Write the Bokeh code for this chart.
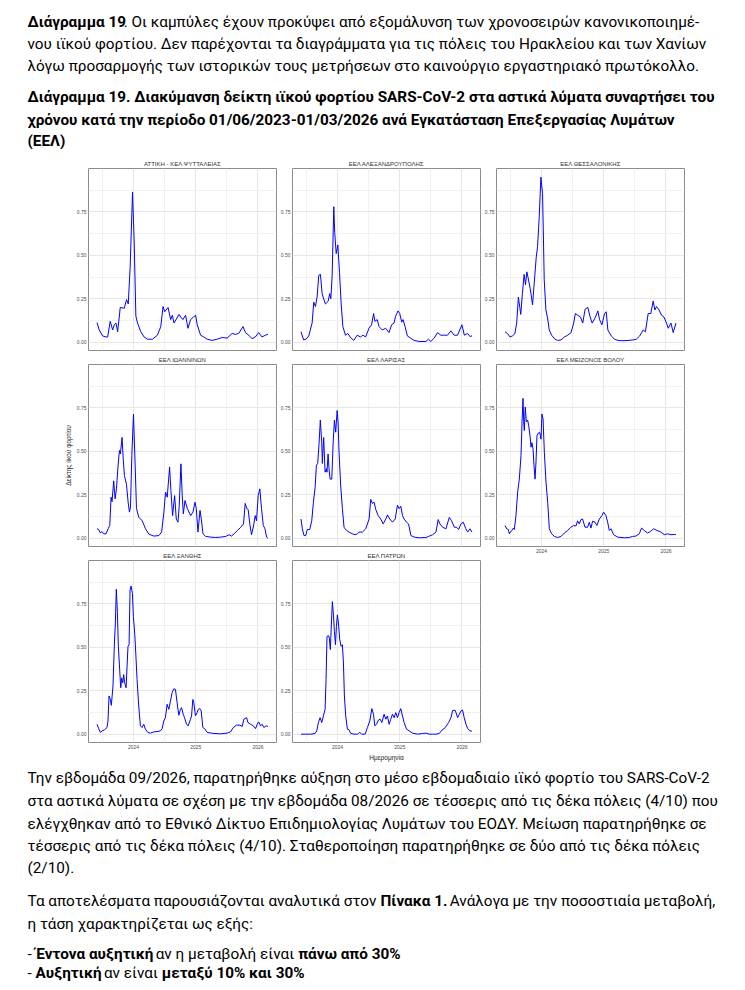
import subprocess
import numpy as np
import pandas as pd
from bokeh.plotting import figure
from bokeh.layouts import column, row
from bokeh.models import (Range1d, FixedTicker, NumeralTickFormatter,
                          DatetimeTickFormatter, Label, ColumnDataSource, Spacer)
from bokeh.embed import file_html
from bokeh.resources import INLINE

# ---------------- data (weeks since 2023-06-01, normalised viral-load index) ----------------
START = "2023-06-01"

ATT_WEEKS = [0, 1.9, 4.7, 7.5, 8.9, 11.1, 13.1, 14.5, 15.9, 17.3, 19.5, 22.8, 24.8, 26.2, 27.8,
             29.8, 31.2, 32.6, 34, 36.7, 39.5, 42.3, 46.5, 50.7, 53.5, 55.4, 56.8, 59.6, 61.8, 63.2,
             64.6, 68.8, 70.2, 72.1, 74.3, 76.3, 78.5, 82.7, 84.1, 86.9, 89.6, 92.4, 96.6, 100.8, 105,
             109.1, 113.3, 116.1, 118.9, 122.5, 124.5, 127.3, 130, 132.8, 135.6, 138.4, 141.2, 143.4]
ATT_VALS = [0.113, 0.07, 0.036, 0.03, 0.03, 0.12, 0.07, 0.10, 0.11, 0.06, 0.20, 0.195, 0.245, 0.22, 0.43,
            0.865, 0.57, 0.15, 0.11, 0.06, 0.03, 0.017, 0.017, 0.04, 0.09, 0.205, 0.175, 0.2, 0.13, 0.155,
            0.11, 0.16, 0.145, 0.13, 0.155, 0.08, 0.13, 0.155, 0.1, 0.04, 0.03, 0.017, 0.01, 0.017, 0.027,
            0.023, 0.05, 0.045, 0.05, 0.09, 0.055, 0.04, 0.02, 0.03, 0.055, 0.03, 0.04, 0.045]

ALE_WEEKS = [0, 2.2, 4.2, 6.5, 9.3, 10.7, 12.1, 13.5, 14.9, 16.3, 17.7, 18.5, 20.5, 22.7, 24.1,
             25, 26.1, 27.5, 28.3, 29.5, 30.9, 32.3, 33.7, 35.1, 37.3, 39.3, 41.5, 44.3, 47.1, 49.9,
             51.9, 54.2, 57, 59.2, 60.9, 62, 64, 65.4, 68.2, 71, 73.8, 76, 78, 79.4, 81.4,
             82.8, 84.5, 85.6, 87.3, 89.2, 92, 94.8, 99.1, 104.7, 106.9, 108.9, 111.7, 114.5, 117.3, 120.1,
             122.9, 125.7, 128.5, 131.3, 135, 137, 139.7, 141.7, 143.4]
ALE_VALS = [0.06, 0.013, 0.017, 0.036, 0.11, 0.23, 0.205, 0.26, 0.385, 0.39, 0.28, 0.26, 0.22, 0.235, 0.28,
            0.25, 0.38, 0.78, 0.63, 0.51, 0.56, 0.40, 0.22, 0.09, 0.04, 0.05, 0.027, 0.01, 0.04, 0.03,
            0.04, 0.03, 0.08, 0.10, 0.165, 0.12, 0.13, 0.09, 0.07, 0.08, 0.055, 0.10, 0.11, 0.15, 0.18,
            0.165, 0.115, 0.13, 0.09, 0.036, 0.023, 0.01, 0.004, 0.004, 0.017, 0.004, 0.023, 0.055, 0.04, 0.04,
            0.04, 0.065, 0.04, 0.04, 0.10, 0.04, 0.05, 0.033, 0.036]

THE_WEEKS = [0, 2, 4.2, 6.2, 8.2, 9.8, 11.2, 12.4, 13.2, 14.6, 16, 17.2, 18.3, 19.4, 21.1,
             23.1, 24.5, 26.2, 27.3, 28.7, 30.1, 31.5, 32.9, 34.3, 35.7, 37.1, 39.1, 41.9, 44.1, 47,
             49.8, 52.6, 55.4, 57.6, 59, 61, 63.3, 65.2, 67.2, 69.5, 71.4, 73.1, 75.6, 77.9, 79.3,
             81.3, 83.5, 84.9, 86.3, 89.1, 91.9, 94.8, 99, 103.2, 107.4, 110.2, 113, 115.9, 117.8, 120.1,
             122.3, 124.3, 125.7, 127.1, 129.3, 131.3, 133.3, 135.5, 136.9, 139.2, 141.1, 143.4]
THE_VALS = [0.06, 0.05, 0.03, 0.036, 0.048, 0.11, 0.26, 0.2, 0.16, 0.28, 0.39, 0.33, 0.405, 0.37, 0.31,
            0.215, 0.34, 0.49, 0.55, 0.72, 0.95, 0.855, 0.36, 0.185, 0.14, 0.07, 0.04, 0.017, 0.01, 0.013,
            0.03, 0.04, 0.055, 0.11, 0.165, 0.155, 0.145, 0.11, 0.19, 0.2, 0.145, 0.11, 0.14, 0.18, 0.13,
            0.10, 0.165, 0.175, 0.07, 0.036, 0.017, 0.01, 0.008, 0.01, 0.013, 0.017, 0.036, 0.07, 0.06, 0.165,
            0.165, 0.237, 0.185, 0.205, 0.185, 0.155, 0.145, 0.11, 0.08, 0.11, 0.055, 0.11]

IOA_WEEKS = [0, 1.4, 2.8, 4.2, 5.6, 7.6, 9.3, 10.7, 11.8, 12.6, 14, 15.2, 16.3, 17.7, 18.8,
             19.6, 21, 21.9, 23, 24.7, 26.1, 27.2, 28.1, 29.2, 30.6, 32, 33.1, 35.1, 37.9, 40.7,
             43.5, 47.7, 51.9, 54.2, 56.1, 57.5, 58.9, 60.9, 62, 63.4, 65.1, 66.5, 67.9, 69, 70.4,
             71.5, 72.4, 73.8, 75.8, 78.6, 80.5, 82.2, 83.3, 84.7, 86.4, 87.5, 88.9, 91.2, 95.4, 99.6,
             103.8, 108, 110.8, 112.8, 115, 117.8, 120.6, 122.9, 124.3, 125.7, 126.8, 128.2, 129.6, 131.3, 132.7,
             133.8, 135.2, 136.6, 138, 139.5, 140.9, 142.3, 143.4]
IOA_VALS = [0.054, 0.05, 0.03, 0.038, 0.025, 0.025, 0.054, 0.073, 0.236, 0.21, 0.33, 0.226, 0.284, 0.42, 0.505,
            0.485, 0.58, 0.466, 0.36, 0.31, 0.207, 0.15, 0.18, 0.476, 0.715, 0.42, 0.17, 0.12, 0.10, 0.054,
            0.023, 0.012, 0.015, 0.035, 0.15, 0.265, 0.236, 0.41, 0.275, 0.13, 0.245, 0.11, 0.092, 0.188, 0.428,
            0.245, 0.14, 0.217, 0.17, 0.13, 0.15, 0.207, 0.17, 0.035, 0.16, 0.11, 0.025, 0.01, 0.006, 0.004,
            0.006, 0.01, 0.02, 0.012, 0.025, 0.044, 0.063, 0.082, 0.2, 0.17, 0.165, 0.08, 0.02, 0.07, 0.13,
            0.10, 0.245, 0.284, 0.17, 0.073, 0.054, 0.006, 0.0]

LAR_WEEKS = [0, 1.1, 2.5, 3.9, 5.3, 7.3, 9, 10.4, 11.8, 12.9, 14, 15.1, 16.2, 17.4, 17.9,
             19, 20.2, 21.3, 21.8, 22.7, 23.5, 24.4, 25.8, 26.9, 28, 29.1, 30.3, 31.1, 31.9, 33.3,
             34.7, 36.1, 38.1, 40.3, 43.1, 45.4, 47.3, 48.7, 51.5, 54.3, 57.1, 58.5, 59.9, 61.3, 62.7,
             64.7, 66.9, 68.9, 71.1, 72.5, 74.5, 76.7, 79, 80.9, 82.3, 83.7, 85.1, 86.5, 88.5, 90.2,
             92.2, 95, 99.2, 104.8, 107, 110.4, 113.2, 115.1, 116.5, 118.8, 121.6, 124.4, 126.3, 128.6, 130.5,
             132.2, 134.1, 136.1, 138.3, 139.8, 141.7, 143.4]
LAR_VALS = [0.11, 0.054, 0.015, 0.015, 0.05, 0.05, 0.10, 0.207, 0.29, 0.42, 0.43, 0.54, 0.68, 0.55, 0.43,
            0.58, 0.38, 0.40, 0.38, 0.485, 0.40, 0.34, 0.34, 0.54, 0.68, 0.61, 0.735, 0.67, 0.495, 0.30,
            0.17, 0.063, 0.044, 0.035, 0.025, 0.02, 0.025, 0.035, 0.035, 0.054, 0.11, 0.223, 0.2, 0.207, 0.165,
            0.13, 0.11, 0.082, 0.11, 0.134, 0.11, 0.092, 0.11, 0.19, 0.17, 0.184, 0.13, 0.11, 0.092, 0.082,
            0.015, 0.006, 0.002, 0.004, 0.01, 0.02, 0.035, 0.107, 0.082, 0.063, 0.054, 0.12, 0.10, 0.063, 0.063,
            0.05, 0.082, 0.092, 0.054, 0.035, 0.054, 0.035]

VOL_WEEKS = [0, 1.4, 2.8, 3.6, 5.6, 7, 7.8, 9.2, 10.6, 12, 13.4, 14.3, 15.1, 15.7, 16.2,
             17, 17.9, 19, 19.8, 21, 21.8, 22.6, 23.5, 24.3, 25.2, 26, 26.8, 28, 29.1, 30.2,
             31, 31.9, 33, 34.4, 35.8, 37.2, 39.1, 41.4, 44.2, 47, 49.8, 52.5, 55.3, 57.6, 59.5,
             60.9, 62.3, 63.7, 65.1, 67.1, 69.3, 70.7, 72.1, 73.5, 75.5, 77.1, 79.1, 81.3, 82.7, 84.7,
             86.1, 87.5, 88.9, 91.1, 94.5, 100.1, 104.3, 107, 109.8, 112.6, 114.6, 116.8, 119.6, 121.9, 124.7,
             127.5, 130.2, 133.6, 136.4, 139.2, 142, 143.4]
VOL_VALS = [0.073, 0.054, 0.05, 0.025, 0.044, 0.058, 0.05, 0.13, 0.265, 0.34, 0.475, 0.67, 0.805, 0.67, 0.62,
            0.755, 0.67, 0.68, 0.65, 0.59, 0.524, 0.55, 0.514, 0.42, 0.34, 0.44, 0.59, 0.606, 0.61, 0.57,
            0.715, 0.687, 0.495, 0.32, 0.207, 0.054, 0.025, 0.01, 0.004, 0.01, 0.03, 0.044, 0.063, 0.073, 0.07,
            0.10, 0.082, 0.107, 0.11, 0.063, 0.063, 0.092, 0.058, 0.098, 0.092, 0.073, 0.11, 0.13, 0.15, 0.13,
            0.092, 0.044, 0.054, 0.02, 0.006, 0.002, 0.004, 0.01, 0.012, 0.025, 0.058, 0.044, 0.03, 0.038, 0.054,
            0.044, 0.038, 0.02, 0.025, 0.02, 0.021, 0.021]

XAN_WEEKS = [0, 1.4, 2.8, 4.2, 6.2, 8.4, 9.2, 10.1, 11.2, 12, 13.4, 14.6, 15.4, 16.2, 17.1,
             17.9, 19, 19.9, 20.7, 21.6, 22.4, 23.2, 24.4, 25.2, 26, 26.9, 27.7, 28.6, 29.7, 30.5,
             31.7, 32.5, 33.6, 35, 36.4, 37.8, 39.2, 40.6, 42.6, 44.8, 47.6, 50.4, 53.2, 54.6, 56,
             57.4, 58.8, 60.2, 61.6, 63, 64.4, 65.8, 67.2, 68.6, 70, 70.9, 72.3, 73.4, 75.1, 76.5,
             78.4, 79.3, 80.4, 81.2, 82.6, 84, 84.9, 86.3, 87.4, 88.8, 90.2, 92.4, 98, 103.6, 109.2,
             112, 114.3, 117.1, 119.9, 121.8, 123.2, 125.5, 126.6, 128.8, 131.1, 133, 134.4, 135.6, 137.2, 138.6,
             140, 141.7, 143.4]
XAN_VALS = [0.057, 0.032, 0.01, 0.019, 0.025, 0.038, 0.076, 0.22, 0.20, 0.166, 0.277, 0.525, 0.64, 0.834, 0.70,
            0.506, 0.372, 0.267, 0.324, 0.296, 0.343, 0.296, 0.267, 0.39, 0.506, 0.515, 0.83, 0.853, 0.81, 0.677,
            0.573, 0.467, 0.315, 0.162, 0.048, 0.038, 0.057, 0.029, 0.01, 0.006, 0.013, 0.015, 0.019, 0.032, 0.076,
            0.095, 0.172, 0.143, 0.19, 0.239, 0.261, 0.258, 0.181, 0.109, 0.143, 0.153, 0.115, 0.095, 0.057, 0.048,
            0.086, 0.105, 0.20, 0.181, 0.105, 0.124, 0.143, 0.147, 0.134, 0.038, 0.032, 0.01, 0.004, 0.002, 0.006,
            0.013, 0.038, 0.052, 0.052, 0.044, 0.086, 0.095, 0.067, 0.057, 0.048, 0.032, 0.057, 0.071, 0.048, 0.057,
            0.038, 0.048, 0.044]

PAT_WEEKS = [0, 3.9, 8.1, 11.8, 13.2, 14.6, 16, 17.4, 18.8, 20.2, 21, 21.8, 23, 23.8, 24.6,
             25.5, 26.3, 27.2, 28, 28.9, 29.7, 30.5, 31.4, 32.5, 33.6, 34.7, 35.6, 36.4, 37.5, 38.9,
             40.3, 41.7, 44.5, 47.3, 49.3, 51, 53.8, 55.7, 57.7, 59.4, 60.8, 61.9, 63.3, 65, 66.4,
             67.8, 69.7, 71.1, 72.5, 73.9, 75.3, 76.7, 78.1, 79.5, 80.9, 82.3, 83.7, 85.1, 86.5, 88.5,
             90.8, 93.6, 97.8, 102, 104.8, 107.6, 110.4, 113.2, 116, 118.2, 121, 123.8, 125.8, 127.2, 129.4,
             131.4, 132.8, 134.2, 135.5, 136.9, 138.4, 139.8, 141.7, 143.4]
PAT_VALS = [0, 0, 0, 0.004, 0.019, 0.067, 0.095, 0.067, 0.105, 0.143, 0.315, 0.563, 0.567, 0.553, 0.487,
            0.64, 0.763, 0.687, 0.592, 0.515, 0.62, 0.687, 0.64, 0.544, 0.506, 0.515, 0.41, 0.22, 0.105, 0.029,
            0.025, 0.004, 0, 0, 0.01, 0, 0, 0.038, 0.076, 0.147, 0.115, 0.048, 0.057, 0.082, 0.086,
            0.067, 0.115, 0.086, 0.105, 0.057, 0.086, 0.115, 0.095, 0.124, 0.095, 0.124, 0.147, 0.105, 0.067, 0.029,
            0.019, 0.006, 0, 0.004, 0.006, 0, 0, 0, 0.004, 0.023, 0.038, 0.067, 0.095, 0.137, 0.137,
            0.095, 0.115, 0.134, 0.139, 0.095, 0.057, 0.032, 0.019, 0.017]

TITLES = ["ΑΤΤΙΚΗ - ΚΕΛ ΨΥΤΤΑΛΕΙΑΣ", "ΕΕΛ ΑΛΕΞΑΝΔΡΟΥΠΟΛΗΣ", "ΕΕΛ ΘΕΣΣΑΛΟΝΙΚΗΣ",
          "ΕΕΛ ΙΩΑΝΝΙΝΩΝ", "ΕΕΛ ΛΑΡΙΣΑΣ", "ΕΕΛ ΜΕΙΖΟΝΟΣ ΒΟΛΟΥ", "ΕΕΛ ΞΑΝΘΗΣ", "ΕΕΛ ΠΑΤΡΩΝ"]
YEAR_TICKS = ["2024-01-01", "2025-01-01", "2026-01-01"]
HALF_TICKS = ["2023-07-01", "2024-07-01", "2025-07-01"]
Y_TICKS = [0.0, 0.25, 0.5, 0.75]
Y_MINOR = [0.125, 0.375, 0.625, 0.875]
Y_LABEL = "Δείκτης ιϊκού φορτίου"
X_LABEL = "Ημερομηνία"

HEADER = [
    [("Διάγραμμα 19", True), (". Οι καμπύλες έχουν προκύψει από εξομάλυνση των χρονοσειρών κανονικοποιημέ-", False)],
    [("νου ιϊκού φορτίου. Δεν παρέχονται τα διαγράμματα για τις πόλεις του Ηρακλείου και των Χανίων", False)],
    [("λόγω προσαρμογής των ιστορικών τους μετρήσεων στο καινούργιο εργαστηριακό πρωτόκολλο.", False)],
    [("Διάγραμμα 19. Διακύμανση δείκτη ιϊκού φορτίου SARS-CoV-2 στα αστικά λύματα συναρτήσει του", True)],
    [("χρόνου κατά την περίοδο 01/06/2023-01/03/2026 ανά Εγκατάσταση Επεξεργασίας Λυμάτων", True)],
    [("(ΕΕΛ)", True)],
]
FOOTER = [
    [("Την εβδομάδα 09/2026, παρατηρήθηκε αύξηση στο μέσο εβδομαδιαίο ιϊκό φορτίο του SARS-CoV-2", False)],
    [("στα αστικά λύματα σε σχέση με την εβδομάδα 08/2026 σε τέσσερις από τις δέκα πόλεις (4/10) που", False)],
    [("ελέγχθηκαν από το Εθνικό Δίκτυο Επιδημιολογίας Λυμάτων του ΕΟΔΥ. Μείωση παρατηρήθηκε σε", False)],
    [("τέσσερις από τις δέκα πόλεις (4/10). Σταθεροποίηση παρατηρήθηκε σε δύο από τις δέκα πόλεις", False)],
    [("(2/10).", False)],
    [("Τα αποτελέσματα παρουσιάζονται αναλυτικά στον ", False), ("Πίνακα 1.", True),
     (" Ανάλογα με την ποσοστιαία μεταβολή,", False)],
    [("η τάση χαρακτηρίζεται ως εξής:", False)],
    [("- ", False), ("Έντονα αυξητική", True), (" αν η μεταβολή είναι ", False), ("πάνω από 30%", True)],
    [("- ", False), ("Αυξητική", True), (" αν είναι ", False), ("μεταξύ 10% και 30%", True)],
]

# ---------------- styling / layout ----------------
BODY_FONT = "Roboto"
AX_FONT = "Liberation Sans"
LINE_COLOR = "#0000ff"
TEXT_W = 691
PAGE_W = 745

_fonts = {}


def _font(bold):
    if bold in _fonts:
        return _fonts[bold]
    f = None
    try:
        from PIL import ImageFont
        pat = BODY_FONT + (":bold" if bold else ":regular")
        path = subprocess.run(["fc-match", "-f", "%{file}", pat], capture_output=True,
                              text=True, timeout=10).stdout.strip()
        if path:
            f = ImageFont.truetype(path, 100)
    except Exception:
        f = None
    _fonts[bold] = f
    return f


def tw(s, size, bold):
    f = _font(bold)
    if f is not None:
        try:
            return f.getlength(s) * size / 100.0
        except Exception:
            pass
    return len(s) * size * (0.53 if bold else 0.5)


def line_w(segs, size):
    return sum(tw(t, size, b) for t, b in segs)


full_lines = [HEADER[0], HEADER[1], HEADER[3], HEADER[4], FOOTER[0], FOOTER[1], FOOTER[2], FOOTER[3], FOOTER[5]]
FS = min(TEXT_W / line_w(l, 1.0) for l in full_lines)
FS = max(13.5, min(16.5, FS))


def rich(p, x, y, segs, size):
    cx = x
    for txt, bold in segs:
        lead = len(txt) - len(txt.lstrip(" "))
        s = txt.strip(" ")
        if s:
            p.add_layout(Label(x=cx + tw(" " * lead, size, bold), y=y, text=s,
                               text_font=BODY_FONT, text_font_size=f"{size:.2f}px",
                               text_font_style="bold" if bold else "normal",
                               text_baseline="middle", text_align="left", text_color="#000000"))
        cx += tw(txt, size, bold)


def text_fig(width, height):
    p = figure(width=width, height=height, x_range=Range1d(0, width), y_range=Range1d(height, 0),
               x_axis_location=None, y_axis_location=None, output_backend="svg",
               toolbar_location=None, min_border=0)
    p.grid.visible = False
    p.outline_line_color = None
    p.background_fill_color = "white"
    p.border_fill_color = "white"
    return p


def ms(d):
    return pd.Timestamp(d).value / 1e6


def panel(title, weeks, vals, width, height, left, right, top, bottom,
          show_x=False, ylabel=None, xlabel=None):
    dates = pd.Timestamp(START) + pd.to_timedelta(np.asarray(weeks, dtype=float) * 7, unit="D")
    n = min(len(dates), len(vals))
    src = ColumnDataSource(dict(x=dates[:n], y=list(vals)[:n]))
    p = figure(width=width, height=height, x_axis_type="datetime",
               x_range=Range1d(pd.Timestamp("2023-04-12"), pd.Timestamp("2026-04-20")),
               y_range=Range1d(-0.048, 1.0),
               x_axis_location="below" if show_x else None,
               output_backend="svg", toolbar_location=None, title=title)
    p.min_border_left = left
    p.min_border_right = right
    p.min_border_top = top
    p.min_border_bottom = bottom
    p.background_fill_color = "white"
    p.border_fill_color = "white"
    p.outline_line_color = "#8c8c8c"
    p.outline_line_width = 1

    p.title.align = "center"
    p.title.text_font = AX_FONT
    p.title.text_font_size = "6px"
    p.title.text_font_style = "normal"
    p.title.text_color = "#333333"
    p.title.standoff = 3

    p.xgrid.ticker = FixedTicker(ticks=[ms(d) for d in YEAR_TICKS], minor_ticks=[ms(d) for d in HALF_TICKS])
    p.ygrid.ticker = FixedTicker(ticks=Y_TICKS, minor_ticks=Y_MINOR)
    p.grid.grid_line_color = "#e6e6e6"
    p.grid.minor_grid_line_color = "#f1f1f1"

    ax = p.yaxis[0]
    ax.ticker = FixedTicker(ticks=Y_TICKS)
    ax.formatter = NumeralTickFormatter(format="0.00")
    axes = [ax]
    if show_x:
        xa = p.xaxis[0]
        xa.ticker = FixedTicker(ticks=[ms(d) for d in YEAR_TICKS])
        xa.formatter = DatetimeTickFormatter(years="%Y", months="%Y", days="%Y", hours="%Y")
        axes.append(xa)
        if xlabel:
            xa.axis_label = xlabel
    if ylabel:
        ax.axis_label = ylabel
    for a in axes:
        a.axis_line_color = None
        a.major_tick_line_color = None
        a.minor_tick_line_color = None
        a.major_tick_out = 0
        a.major_tick_in = 0
        a.minor_tick_out = 0
        a.minor_tick_in = 0
        a.major_label_text_font = AX_FONT
        a.major_label_text_font_size = "5px"
        a.major_label_text_color = "#4d4d4d"
        a.major_label_standoff = 2
        a.axis_label_text_font = AX_FONT
        a.axis_label_text_font_size = "6.5px"
        a.axis_label_text_font_style = "normal"
        a.axis_label_text_color = "#1a1a1a"
        a.axis_label_standoff = 2

    p.line("x", "y", source=src, line_color=LINE_COLOR, line_width=1)
    return p


# header (page starts at y=0)
hdr = text_fig(PAGE_W, 154)
for segs, yy in zip(HEADER, [21.5, 43.5, 65, 96.7, 119.3, 140.5]):
    rich(hdr, 27, yy, segs, FS)

# panels: columns
W1, W2, W3 = 277, 204, 264
p_att = panel(TITLES[0], ATT_WEEKS, ATT_VALS, W1, 197, 88, 1, 14, 1)
p_ioa = panel(TITLES[3], IOA_WEEKS, IOA_VALS, W1, 196, 88, 1, 13, 1, ylabel=Y_LABEL)
p_xan = panel(TITLES[6], XAN_WEEKS, XAN_VALS, W1, 219, 88, 1, 13, 24, show_x=True)

p_ale = panel(TITLES[1], ALE_WEEKS, ALE_VALS, W2, 197, 15, 1, 14, 1)
p_lar = panel(TITLES[4], LAR_WEEKS, LAR_VALS, W2, 196, 15, 1, 13, 1)
p_pat = panel(TITLES[7], PAT_WEEKS, PAT_VALS, W2, 219, 15, 1, 13, 24, show_x=True, xlabel=X_LABEL)

p_the = panel(TITLES[2], THE_WEEKS, THE_VALS, W3, 197, 15, 61, 14, 1)
p_vol = panel(TITLES[5], VOL_WEEKS, VOL_VALS, W3, 209, 15, 61, 13, 14, show_x=True)

col1 = column(p_att, p_ioa, p_xan, spacing=0)
col2 = column(p_ale, p_lar, p_pat, spacing=0)
col3 = column(p_the, p_vol, Spacer(width=W3, height=206), spacing=0)
grid = row(col1, col2, col3, spacing=0)

# footer (starts at y=766)
ftr = text_fig(PAGE_W, 224)
for segs, yy in zip(FOOTER, [11, 34, 57, 79, 101, 134, 157, 187, 206]):
    rich(ftr, 27, yy, segs, FS)

page = column(hdr, grid, ftr, spacing=0)

with open("out.html", "w") as fh:
    fh.write(file_html(page, INLINE))
